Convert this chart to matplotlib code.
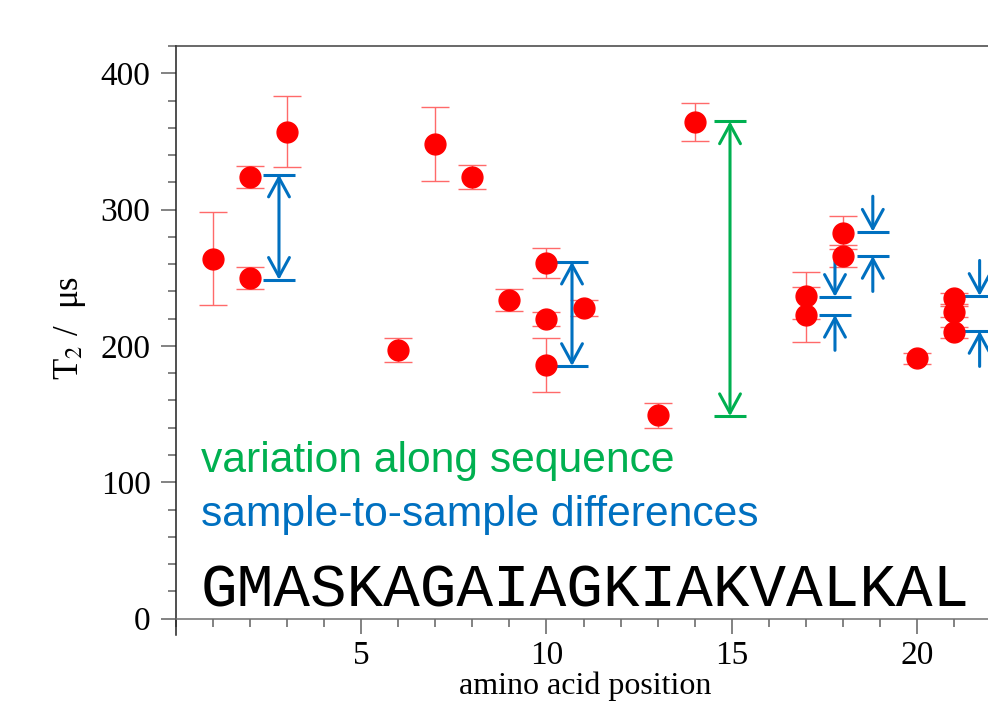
import matplotlib
matplotlib.use('Agg')
import matplotlib.pyplot as plt
from matplotlib.ticker import MultipleLocator

# T2 per residue (several samples per position)
pos = [1, 2, 2, 3, 6, 7, 8, 9, 10, 10, 10, 11, 13, 14, 17, 17, 18, 18, 20, 21, 21, 21]
t2 = [264, 324, 250, 357, 197, 348, 324, 234, 261, 220, 186, 228, 149, 364, 237, 223, 283, 266, 191, 235, 225, 210]
t2_err = [34, 8, 8, 26, 9, 27, 9, 8, 11, 5, 20, 6, 9, 14, 17, 20, 12, 8, 4, 4, 4, 4]

sequence = "GMASKAGAIAGKIAKVALKAL"
xticks = [5, 10, 15, 20]
yticks = [0, 100, 200, 300, 400]

# brackets: sample-to-sample (blue) and along-sequence (green)
dbl_x = [2.79, 10.69]
dbl_lo = [248.5, 185.3]
dbl_hi = [325.7, 261.8]
inw_x = [17.78, 18.8, 21.68]
inw_lo = [222.8, 266, 211]
inw_hi = [236, 283.8, 236.7]
seq_x = 14.95
seq_lo = 148.5
seq_hi = 364.7

blue = '#0070C0'
green = '#00B050'

plt.rcParams['font.family'] = ['Liberation Serif', 'DejaVu Serif']
plt.rcParams['mathtext.fontset'] = 'stix'

fig = plt.figure(figsize=(9.88, 7.01), dpi=100)
ax = fig.add_axes([175.5/988, 66/701, 816/988, 589/701])

ax.errorbar(pos, t2, yerr=t2_err, fmt='o', color='#FF0000', ms=15,
            ecolor='#FF6A6A', elinewidth=1, capsize=10, capthick=1, zorder=3)

hw = 0.43
def bracket(x, lo, hi, c):
    ax.hlines([lo, hi], x - hw, x + hw, color=c, lw=2.2, zorder=2)

aprops = dict(lw=2.2, shrinkA=0, shrinkB=0, mutation_scale=25)
for x, lo, hi in zip(dbl_x, dbl_lo, dbl_hi):
    bracket(x, lo, hi, blue)
    ax.annotate('', xy=(x, hi), xytext=(x, lo),
                arrowprops=dict(arrowstyle='<->,head_length=0.55,head_width=0.3', color=blue, **aprops))

tail = 26
for x, lo, hi in zip(inw_x, inw_lo, inw_hi):
    bracket(x, lo, hi, blue)
    ax.annotate('', xy=(x, hi), xytext=(x, hi + tail),
                arrowprops=dict(arrowstyle='->,head_length=0.55,head_width=0.3', color=blue, **aprops))
    ax.annotate('', xy=(x, lo), xytext=(x, lo - tail),
                arrowprops=dict(arrowstyle='->,head_length=0.55,head_width=0.3', color=blue, **aprops))

bracket(seq_x, seq_lo, seq_hi, green)
ax.annotate('', xy=(seq_x, seq_hi), xytext=(seq_x, seq_lo),
            arrowprops=dict(arrowstyle='<->,head_length=0.55,head_width=0.3', color=green, **aprops))

ax.text(0.69, 107.4, 'variation along sequence', color=green, fontsize=30.7,
        family='Liberation Sans', va='baseline')
ax.text(0.69, 67.6, 'sample-to-sample differences', color=blue, fontsize=30.7,
        family='Liberation Sans', va='baseline')
ax.text(0.69, 8.8, sequence, color='black', fontsize=44,
        family='Liberation Mono', va='baseline')

ax.set_xlim(0, 22)
ax.set_ylim(-12, 420)
ax.set_xticks(xticks)
ax.xaxis.set_minor_locator(MultipleLocator(1))
ax.set_yticks(yticks)
ax.yaxis.set_minor_locator(MultipleLocator(20))

ax.spines['bottom'].set_position(('data', 0))
ax.spines['bottom'].set_color('#707070')
ax.spines['left'].set_color('#202020')
ax.spines['top'].set_color('#404040')
ax.spines['right'].set_visible(False)
for s in ax.spines.values():
    s.set_linewidth(1.1)

ax.tick_params(which='both', direction='out', color='#606060', width=1.1,
               labelsize=24, top=False, right=False)
ax.tick_params(which='major', length=11)
ax.tick_params(which='minor', length=6)
ax.tick_params(axis='x', pad=5)
ax.tick_params(axis='y', pad=7)

fig.text(70/988, 1 - 328/701, 'T$_2$ /  μs', rotation=90, fontsize=25,
         ha='center', va='center')
fig.text(585/988, 7/701, 'amino acid position', fontsize=23,
         ha='center', va='baseline')

fig.savefig('out.png', dpi=100)
